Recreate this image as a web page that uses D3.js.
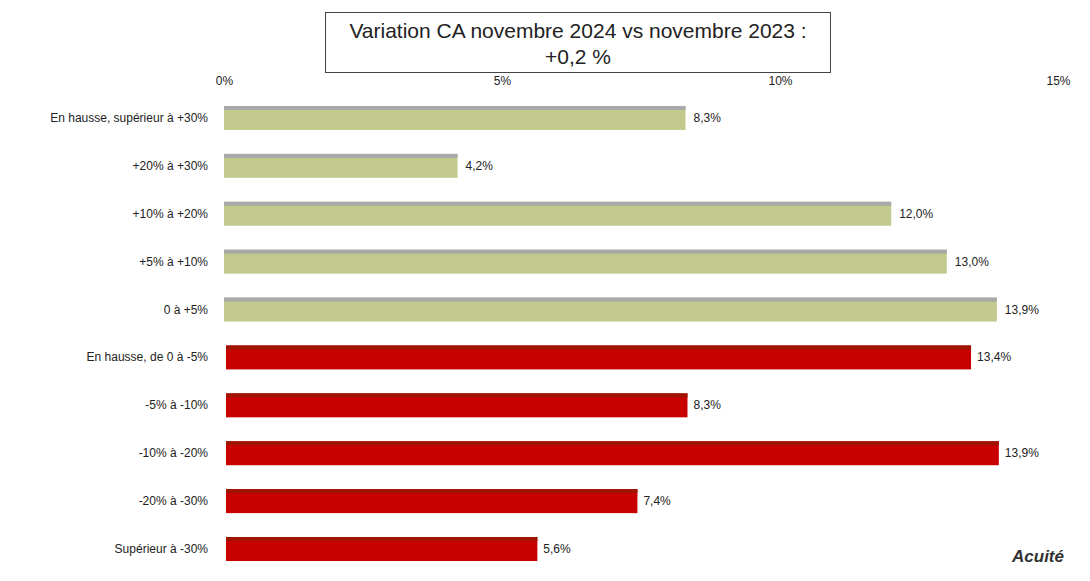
<!DOCTYPE html>
<html><head><meta charset="utf-8">
<script src="https://cdn.jsdelivr.net/npm/d3@7"></script>
<style>body{margin:0;background:#fff;font-family:"Liberation Sans",Arial,sans-serif}</style>
</head><body><div id="chart"></div>
<script>
var categories = ["En hausse, supérieur à +30%", "+20% à +30%", "+10% à +20%", "+5% à +10%", "0 à +5%",
    "En hausse, de 0 à -5%", "-5% à -10%", "-10% à -20%", "-20% à -30%", "Supérieur à -30%"];
var values = [8.3, 4.2, 12.0, 13.0, 13.9, 13.4, 8.3, 13.9, 7.4, 5.6];
var ticks = [0, 5, 10, 15];

var svgWidth = 1090, svgHeight = 581;
var margin = {top: 94, left: 224, right: 32, bottom: 8};

var svg = d3.select("#chart").append("svg")
    .attr("width", svgWidth).attr("height", svgHeight);

var x = d3.scaleLinear().domain([0, 15]).range([margin.left, svgWidth - margin.right]);
var y = d3.scaleBand().domain(categories).range([margin.top, 573]).paddingInner(0.5).paddingOuter(0.25);

// title box
svg.append("rect").attr("x", 325.5).attr("y", 12.5).attr("width", 505).attr("height", 60)
    .attr("fill", "#fff").attr("stroke", "#444");
svg.append("text").attr("x", 578).attr("y", 38).attr("text-anchor", "middle")
    .attr("font-size", 21).attr("fill", "#222").text("Variation CA novembre 2024 vs novembre 2023 :");
svg.append("text").attr("x", 578).attr("y", 64).attr("text-anchor", "middle")
    .attr("font-size", 21).attr("fill", "#222").text("+0,2 %");

// top axis
var axis = d3.axisTop(x).tickValues(ticks).tickFormat(d => d + "%").tickSize(0);
var ax = svg.append("g").attr("transform", "translate(0,88)").call(axis);
ax.select(".domain").remove();
ax.selectAll("text").attr("font-size", 12).attr("fill", "#222");

// bars
var rows = svg.selectAll(".row").data(categories).enter().append("g");
rows.append("rect")
    .attr("x", (d, i) => i < 5 ? x(0) : x(0) + 2)
    .attr("y", d => y(d))
    .attr("width", (d, i) => x(values[i]) - x(0))
    .attr("height", y.bandwidth())
    .attr("fill", (d, i) => i < 5 ? "#c3c98c" : "#c80000");
rows.append("rect")
    .attr("x", (d, i) => i < 5 ? x(0) : x(0) + 2)
    .attr("y", d => y(d))
    .attr("width", (d, i) => x(values[i]) - x(0))
    .attr("height", 4)
    .attr("fill", (d, i) => i < 5 ? "#a8a8a8" : "#9e1400");

rows.append("text")
    .attr("x", (d, i) => x(values[i]) + 8)
    .attr("y", d => y(d) + y.bandwidth() / 2 + 4)
    .attr("font-size", 12).attr("fill", "#222")
    .text((d, i) => values[i].toFixed(1).replace(".", ",") + "%");

rows.append("text")
    .attr("x", 208)
    .attr("y", d => y(d) + y.bandwidth() / 2 + 4)
    .attr("text-anchor", "end")
    .attr("font-size", 12).attr("fill", "#222")
    .text(d => d);

svg.append("text").attr("x", 1064).attr("y", 562).attr("text-anchor", "end")
    .attr("font-size", 17).attr("font-weight", "bold").attr("font-style", "italic")
    .attr("fill", "#333").text("Acuité");
</script></body></html>
